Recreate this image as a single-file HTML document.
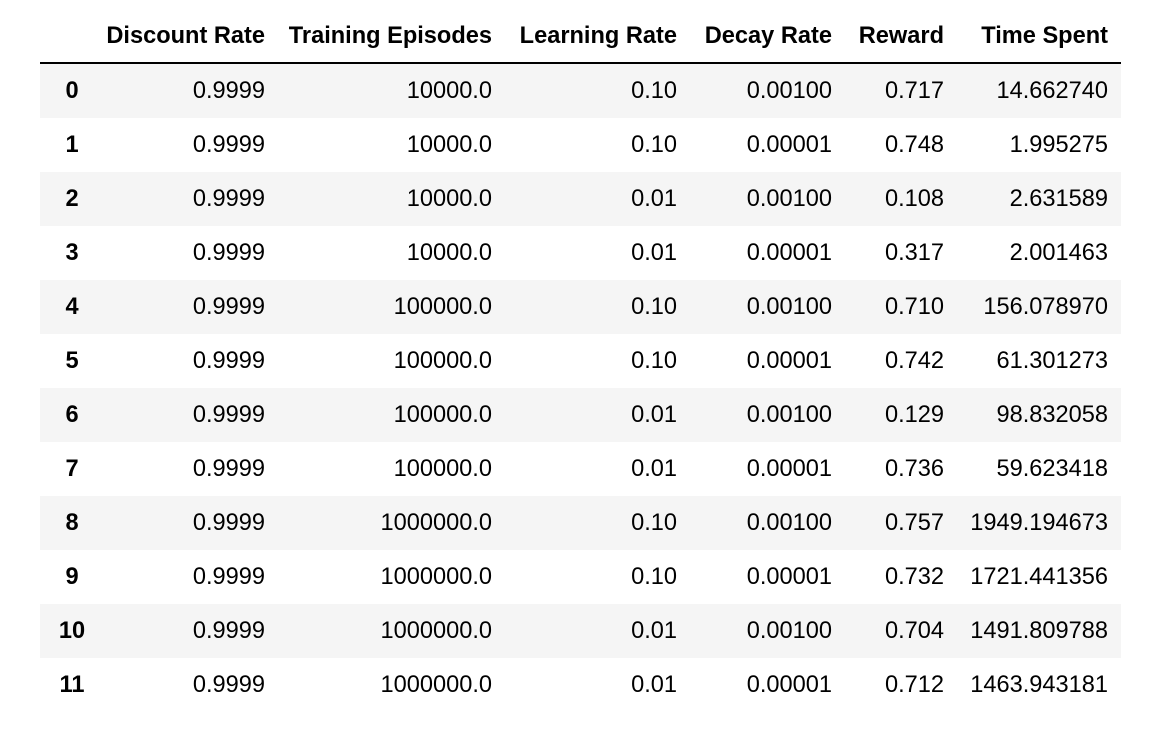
<!DOCTYPE html>
<html><head><meta charset="utf-8"><style>
html,body{margin:0;padding:0;background:#fff;width:1154px;height:734px;overflow:hidden}
table{position:absolute;left:40px;top:10px;border-collapse:collapse;table-layout:fixed;font-family:"Liberation Sans",Arial,sans-serif;font-size:23.6px;color:#000}
th{font-weight:bold;text-align:right;padding:0 13px 0 0;height:52px;vertical-align:middle}
thead tr{border-bottom:2px solid #000}
td{text-align:right;padding:0 13px 0 0;height:54px;vertical-align:middle}
td.idx{text-align:center;font-weight:bold;padding:0}
tbody tr:nth-child(odd){background:#f5f5f5}
</style></head><body>
<table>
<colgroup><col style="width:64px"><col style="width:174px"><col style="width:227px"><col style="width:185px"><col style="width:155px"><col style="width:112px"><col style="width:164px"></colgroup>
<thead><tr>
<th></th>
<th>Discount Rate</th>
<th>Training Episodes</th>
<th>Learning Rate</th>
<th>Decay Rate</th>
<th>Reward</th>
<th>Time Spent</th>
</tr></thead>
<tbody>
<tr><td class="idx">0</td><td>0.9999</td><td>10000.0</td><td>0.10</td><td>0.00100</td><td>0.717</td><td>14.662740</td></tr>
<tr><td class="idx">1</td><td>0.9999</td><td>10000.0</td><td>0.10</td><td>0.00001</td><td>0.748</td><td>1.995275</td></tr>
<tr><td class="idx">2</td><td>0.9999</td><td>10000.0</td><td>0.01</td><td>0.00100</td><td>0.108</td><td>2.631589</td></tr>
<tr><td class="idx">3</td><td>0.9999</td><td>10000.0</td><td>0.01</td><td>0.00001</td><td>0.317</td><td>2.001463</td></tr>
<tr><td class="idx">4</td><td>0.9999</td><td>100000.0</td><td>0.10</td><td>0.00100</td><td>0.710</td><td>156.078970</td></tr>
<tr><td class="idx">5</td><td>0.9999</td><td>100000.0</td><td>0.10</td><td>0.00001</td><td>0.742</td><td>61.301273</td></tr>
<tr><td class="idx">6</td><td>0.9999</td><td>100000.0</td><td>0.01</td><td>0.00100</td><td>0.129</td><td>98.832058</td></tr>
<tr><td class="idx">7</td><td>0.9999</td><td>100000.0</td><td>0.01</td><td>0.00001</td><td>0.736</td><td>59.623418</td></tr>
<tr><td class="idx">8</td><td>0.9999</td><td>1000000.0</td><td>0.10</td><td>0.00100</td><td>0.757</td><td>1949.194673</td></tr>
<tr><td class="idx">9</td><td>0.9999</td><td>1000000.0</td><td>0.10</td><td>0.00001</td><td>0.732</td><td>1721.441356</td></tr>
<tr><td class="idx">10</td><td>0.9999</td><td>1000000.0</td><td>0.01</td><td>0.00100</td><td>0.704</td><td>1491.809788</td></tr>
<tr><td class="idx">11</td><td>0.9999</td><td>1000000.0</td><td>0.01</td><td>0.00001</td><td>0.712</td><td>1463.943181</td></tr>
</tbody></table>
</body></html>
